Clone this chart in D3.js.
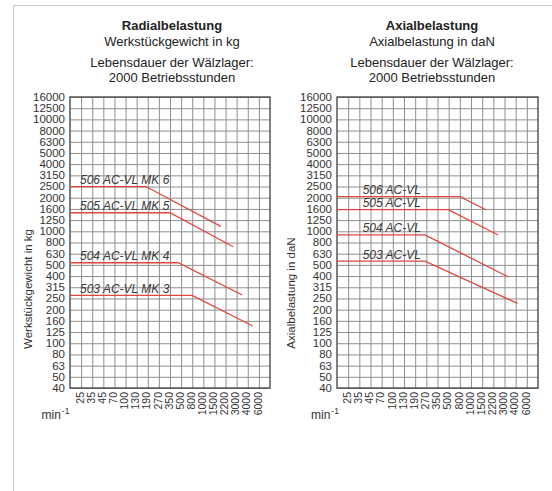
<!DOCTYPE html>
<html><head><meta charset="utf-8">
<script src="https://cdn.jsdelivr.net/npm/d3@7"></script>
<style>
body{margin:0;background:#fff}
svg{display:block;font-family:"Liberation Sans",Arial,Helvetica,sans-serif}
</style>
</head><body>
<svg id="chart" width="552" height="491"></svg>
<script>
// ---- data ----
const speedTicks = [25,35,45,70,100,130,190,270,350,500,800,1000,1500,2200,3000,4000,6000];
const loadTicks = [16000,12500,10000,8000,6300,5000,4000,3150,2500,2000,1600,1250,1000,800,630,500,400,315,250,200,160,125,100,80,63,50,40];
const AXIS_START = 15; // speed value at the left edge of the grid

const radialNames = ["506 AC-VL MK 6","505 AC-VL MK 5","504 AC-VL MK 4","503 AC-VL MK 3"];
const radialMK6 = [[AXIS_START,2500],[180,2500],[1900,1110]];
const radialMK5 = [[AXIS_START,1480],[350,1480],[2750,735]];
const radialMK4 = [[AXIS_START,525],[460,525],[3500,270]];
const radialMK3 = [[AXIS_START,268],[800,268],[4900,144]];

const axialNames = ["506 AC-VL","505 AC-VL","504 AC-VL","503 AC-VL"];
const axial506 = [[AXIS_START,2050],[800,2050],[1760,1565]];
const axial505 = [[AXIS_START,1580],[495,1580],[2550,934]];
const axial504 = [[AXIS_START,935],[260,935],[3310,395]];
const axial503 = [[AXIS_START,544],[260,544],[4340,228]];

const radialTitle = ["Radialbelastung","Werkstückgewicht in kg","Lebensdauer der Wälzlager:","2000 Betriebsstunden"];
const axialTitle  = ["Axialbelastung","Axialbelastung in daN","Lebensdauer der Wälzlager:","2000 Betriebsstunden"];
const radialYTitle = "Werkstückgewicht in kg";
const axialYTitle = "Axialbelastung in daN";
const unitLabel = "min";
const unitSup = "-1";

// ---- layout ----
const svg = d3.select("#chart");
const TOP = 97, BOTTOM = 388;
const RED = "#e0463d";

svg.append("rect").attr("x",13.5).attr("y",5.5).attr("width",700).attr("height",700)
  .attr("fill","none").attr("stroke","#c8c8c8").attr("stroke-width",1);

function panel(cfg){
  const g = svg.append("g");
  const w = cfg.x1 - cfg.x0, h = BOTTOM - TOP;
  const x = d3.scaleLinear().domain(speedTicks)
    .range(speedTicks.map((d,i)=>cfg.x0 + (i+1)*w/(speedTicks.length+1)));
  const y = d3.scaleLinear().domain(loadTicks)
    .range(loadTicks.map((d,i)=>TOP + i*h/(loadTicks.length-1)));

  // titles
  const ty = [30,46,67,82];
  cfg.title.forEach((t,i)=>{
    g.append("text").attr("x",cfg.tx).attr("y",ty[i]).attr("text-anchor","middle")
      .attr("font-size",13).attr("font-weight", i===0?"bold":"normal")
      .attr("fill","#222").text(t);
  });

  // y axis + horizontal grid
  const ya = g.append("g").attr("transform",`translate(${cfg.x0},0)`)
    .call(d3.axisLeft(y).tickValues(loadTicks).tickSize(-w).tickPadding(5).tickFormat(d=>String(d)));
  ya.select(".domain").remove();
  ya.selectAll(".tick line").attr("stroke","#8f8f8f").attr("stroke-width",1);
  ya.selectAll(".tick text").attr("font-size",11.5).attr("fill","#333").attr("dy","0.3em")
    .style("font-family","'Liberation Sans',Arial,sans-serif");

  // x axis + vertical grid
  const xa = g.append("g").attr("transform",`translate(0,${BOTTOM})`)
    .call(d3.axisBottom(x).tickValues(speedTicks).tickSize(-h).tickFormat(d=>String(d)));
  xa.select(".domain").remove();
  xa.selectAll(".tick line").attr("stroke","#8f8f8f").attr("stroke-width",1);
  xa.selectAll(".tick text").attr("transform","rotate(-90)").attr("x",-4).attr("y",-1.5)
    .attr("dy","0.35em").style("text-anchor","end").attr("font-size",10.5).attr("fill","#333")
    .style("font-family","'Liberation Sans',Arial,sans-serif");

  // frame
  g.append("rect").attr("x",cfg.x0).attr("y",TOP).attr("width",w).attr("height",h)
    .attr("fill","none").attr("stroke","#4a4a4a").attr("stroke-width",1.4);

  // lines
  const line = d3.line().x(d=>x(d[0])).y(d=>y(d[1]));
  cfg.series.forEach((s,i)=>{
    g.append("path").attr("d",line(s)).attr("fill","none").attr("stroke",RED).attr("stroke-width",1.3);
    g.append("text").attr("x",x(cfg.labelAt)).attr("y",y(s[0][1])-2.5)
      .attr("font-size",12).attr("font-style","italic").attr("fill","#3a3a3a").text(cfg.names[i]);
  });

  // y title
  g.append("text").attr("transform",`translate(${cfg.ytx},${cfg.yty}) rotate(-90)`)
    .attr("text-anchor","middle").attr("dy","0.35em").attr("font-size",11.5).attr("fill","#333")
    .text(cfg.ytitle);

  // unit
  const u = g.append("text").attr("x",cfg.ux).attr("y",419).attr("font-size",12).attr("fill","#333");
  u.append("tspan").text(unitLabel);
  u.append("tspan").attr("dy",-5).attr("dx",1).attr("font-size",8.5).text(unitSup);
}

panel({x0:70,x1:270,tx:172,title:radialTitle,series:[radialMK6,radialMK5,radialMK4,radialMK3],
  names:radialNames,labelAt:24,ytitle:radialYTitle,ytx:28,yty:289,ux:41.5});
panel({x0:337,x1:538,tx:432,title:axialTitle,series:[axial506,axial505,axial504,axial503],
  names:axialNames,labelAt:38,ytitle:axialYTitle,ytx:290.5,yty:293,ux:311});
</script>
</body></html>
